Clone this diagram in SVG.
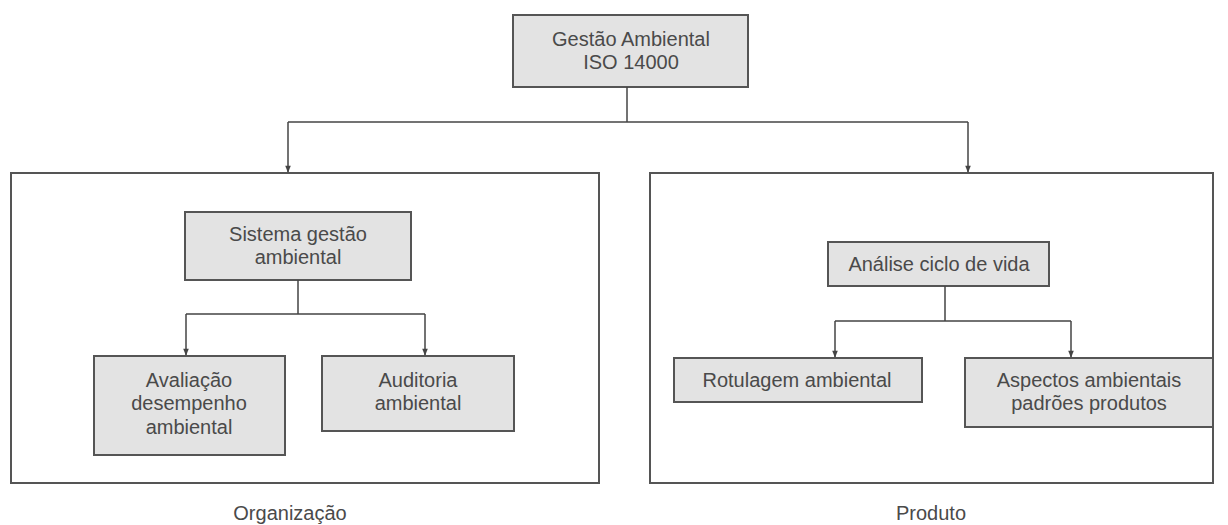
<svg xmlns="http://www.w3.org/2000/svg" width="1228" height="525" viewBox="0 0 1228 525">
<defs>
<style>
.box{fill:#e3e3e3;stroke:#555;stroke-width:2}
.frame{fill:none;stroke:#555;stroke-width:2}
.t{font-family:"Liberation Sans",Arial,sans-serif;font-size:20px;fill:#4a4a4a;text-anchor:middle}
.c{fill:none;stroke:#444;stroke-width:1.5}
</style>
<marker id="ah" viewBox="0 0 10 10" refX="9" refY="5" markerWidth="8" markerHeight="7" orient="auto" markerUnits="userSpaceOnUse">
<path d="M0,1 L10,5 L0,9 Z" fill="#444"/>
</marker>
</defs>
<rect width="1228" height="525" fill="#fff"/>
<g id="frame-org"><rect class="frame" x="11" y="173" width="588" height="310"/><text class="t" x="290" y="520">Organização</text></g>
<g id="frame-prod"><rect class="frame" x="650" y="173" width="563" height="310"/><text class="t" x="931" y="520">Produto</text></g>
<g id="n-iso"><rect class="box" x="513" y="15" width="235" height="72"/><text class="t" x="631" y="46">Gestão Ambiental</text><text class="t" x="631" y="69">ISO 14000</text></g>
<g id="n-sga"><rect class="box" x="185" y="212" width="226" height="68"/><text class="t" x="298" y="241">Sistema gestão</text><text class="t" x="298" y="264">ambiental</text></g>
<g id="n-ada"><rect class="box" x="94" y="356" width="191" height="99"/><text class="t" x="189" y="387">Avaliação</text><text class="t" x="189" y="410">desempenho</text><text class="t" x="189" y="434">ambiental</text></g>
<g id="n-aud"><rect class="box" x="322" y="356" width="192" height="75"/><text class="t" x="418" y="387">Auditoria</text><text class="t" x="418" y="410">ambiental</text></g>
<g id="n-acv"><rect class="box" x="828" y="242" width="221" height="44"/><text class="t" x="939" y="271">Análise ciclo de vida</text></g>
<g id="n-rot"><rect class="box" x="674" y="358" width="248" height="44"/><text class="t" x="797" y="387">Rotulagem ambiental</text></g>
<g id="n-asp"><rect class="box" x="965" y="358" width="248" height="69"/><text class="t" x="1089" y="387">Aspectos ambientais</text><text class="t" x="1089" y="410">padrões produtos</text></g>
<g id="connectors">
<path class="c" d="M627,87 V122"/>
<path class="c" d="M288,122 H968"/>
<path class="c" d="M288,122 V172" marker-end="url(#ah)"/>
<path class="c" d="M968,122 V172" marker-end="url(#ah)"/>
<path class="c" d="M298,280 V314 M186,314 H425"/>
<path class="c" d="M186,314 V355" marker-end="url(#ah)"/>
<path class="c" d="M425,314 V355" marker-end="url(#ah)"/>
<path class="c" d="M945,286 V321 M835,321 H1071"/>
<path class="c" d="M835,321 V357" marker-end="url(#ah)"/>
<path class="c" d="M1071,321 V357" marker-end="url(#ah)"/>
</g>
</svg>
